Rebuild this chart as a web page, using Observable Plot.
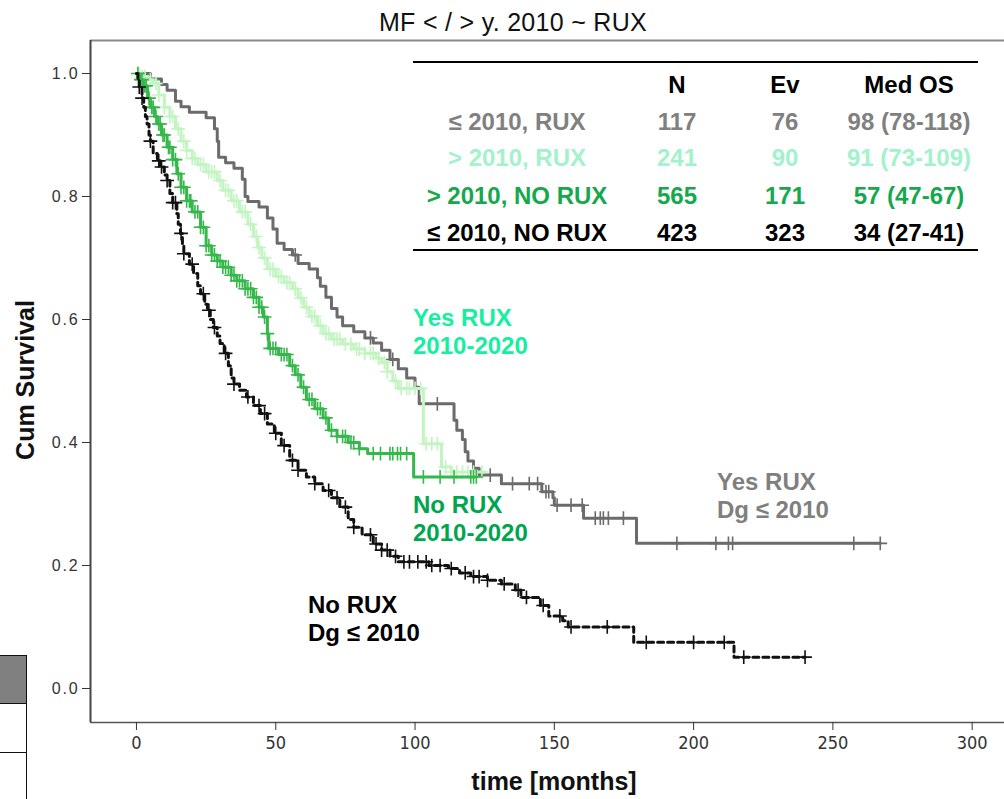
<!DOCTYPE html>
<html><head><meta charset="utf-8">
<script src="https://cdn.jsdelivr.net/npm/d3@7"></script>
<script src="https://cdn.jsdelivr.net/npm/@observablehq/plot@0.6"></script>
<style>
body{margin:0;background:#fff;}
#wrap{position:relative;width:1004px;height:799px;overflow:hidden;font-family:"Liberation Sans",Arial,sans-serif;}
#wrap svg{position:absolute;left:0;top:0;}
#wrap svg g[aria-label="y-axis tick label"] text{letter-spacing:1.8px;}
.abs{position:absolute;white-space:nowrap;line-height:1;}
.c{transform:translate(-50%,-50%);}
.title{left:513px;top:22px;font-size:25px;letter-spacing:0.3px;color:#111;}
.ylab{left:25px;top:380px;font-size:25px;font-weight:bold;color:#111;transform:translate(-50%,-50%) rotate(-90deg);}
.xlab{left:554px;top:781px;font-size:25px;font-weight:bold;color:#111;}
.tbl{font-size:24px;font-weight:bold;}
.hline{position:absolute;left:413px;width:565px;height:2px;background:#000;}
.ann{font-size:24px;font-weight:bold;line-height:28px;}
.box{position:absolute;border:1.5px solid #111;box-sizing:border-box;}
</style></head><body><div id="wrap"></div>
<script>
// ---------------- DATA ----------------
const groups = ["≤ 2010, RUX", "> 2010, RUX", "> 2010, NO RUX", "≤ 2010, NO RUX"];
const groupN = [117, 241, 565, 423];
const groupEv = [76, 90, 171, 323];
const groupMedOS = ["98 (78-118)", "91 (73-109)", "57 (47-67)", "34 (27-41)"];
const tableHeader = ["", "N", "Ev", "Med OS"];

// ≤ 2010, RUX  (gray)
const ruxOldTime = [0,5,9,11,14,16,19,25,28,29,29.5,32,35,38,39,40,44,47,49,50.5,53,56,58,62,65,66,68,70,72,74,78,82,85,88,91,94,97,100,101.5,114,115,117,118,119,121,123,131,145.5,149.5,150,160.5,179.5];
const ruxOldSurv = [1.0,0.991,0.982,0.973,0.955,0.946,0.937,0.928,0.91,0.89,0.864,0.855,0.846,0.828,0.80,0.792,0.783,0.765,0.747,0.724,0.714,0.705,0.691,0.682,0.668,0.654,0.636,0.618,0.604,0.59,0.58,0.57,0.562,0.55,0.535,0.52,0.505,0.49,0.463,0.436,0.42,0.405,0.385,0.37,0.358,0.347,0.333,0.32,0.31,0.298,0.277,0.236];
const ruxOldEnd = 267;
const ruxOldCensor = [57,84,92,108,127,135,141,144,147,148,151,156,160,164.7,166.5,167.6,169.4,174.8,194,208,212.5,214,257.5,267];

// > 2010, RUX  (light green)
const ruxNewTime = [0,2,4,6,8,10,12,14,16,18,20,22,25,29,31,34,37,40,42,43.5,45,47,50,53,56,58,60,62,65,67,70,74,78,82,86,88,90,92,94,103,109.5,113];
const ruxNewSurv = [1.0,0.995,0.99,0.984,0.965,0.945,0.93,0.91,0.89,0.875,0.862,0.852,0.84,0.826,0.81,0.793,0.775,0.755,0.735,0.717,0.70,0.682,0.67,0.66,0.65,0.635,0.62,0.605,0.59,0.577,0.568,0.56,0.552,0.545,0.537,0.53,0.515,0.50,0.488,0.398,0.36,0.352];
const ruxNewEnd = 125;
const ruxNewCensor = [1,2,3,5,7,8,10,12,13,15,17,18,20,21,23,24,26,27,28,30,32,33,35,36,38,39,41,43,44,46,48,49,51,52,54,55,57,59,61,63,64,66,68,69,71,72,73,75,77,79,80,82,84,85,87,89,90,93,95,97,98,100,102,104,106,108,111,113,115,117,119,121,124];

// > 2010, NO RUX  (green)
const noRuxNewTime = [0,1,2.5,4,5,6.5,7.5,9,11,13,14.5,16,18,20,23,25,27,29,31,34,36,39,42,44,45.5,47,47.5,51,55,57,59,61,64,67,69,72,76,80,83,99.5];
const noRuxNewSurv = [1.0,0.99,0.98,0.96,0.945,0.93,0.918,0.9,0.88,0.86,0.837,0.815,0.793,0.775,0.75,0.72,0.705,0.695,0.685,0.672,0.663,0.65,0.636,0.62,0.604,0.577,0.553,0.543,0.525,0.51,0.49,0.47,0.455,0.44,0.42,0.41,0.40,0.39,0.382,0.344];
const noRuxNewEnd = 122;
const noRuxNewCensor = [0.5,1.5,2,3,3.5,4.5,5.5,6,7,8,8.5,9.5,10,11.5,12,13,14,15,16,17,18,19,19.5,21,22,23,24,25,26,27,28,29,30,31,32,33,34,35,36,37,38,39,40,41,42,43,44,45,46,47,48,49,50,52,53,54,56,58,60,62,63,65,66,68,70,72,74,75,77,78,80,85,87.6,91,92,93.7,94.8,97,103,109,114,120,121,122];

// ≤ 2010, NO RUX  (black, dashed)
const noRuxOldTime = [0,0.5,1,2,2.6,3.2,3.8,4.5,5,6,7.5,8.6,10,11,12,13,14.5,15,15.8,16.5,17,19,20.5,22,23,24.5,25.5,26.5,27.6,29,30,31.5,33,34,35,37,39.5,42,44.5,47,49.5,52,55,58,61,64,67,70,73,76,78,81,85,88,91,94,105,112,116,120,126,131,136,138,145,148,153,155,178.5,214.5];
const noRuxOldSurv = [1.0,0.99,0.978,0.96,0.945,0.93,0.918,0.9,0.89,0.87,0.858,0.848,0.835,0.826,0.805,0.79,0.772,0.755,0.74,0.72,0.707,0.69,0.675,0.655,0.642,0.625,0.615,0.60,0.587,0.573,0.561,0.545,0.525,0.505,0.495,0.485,0.474,0.46,0.447,0.43,0.415,0.395,0.371,0.355,0.344,0.333,0.322,0.31,0.295,0.275,0.262,0.25,0.235,0.225,0.215,0.206,0.2,0.195,0.188,0.182,0.176,0.17,0.16,0.148,0.135,0.118,0.11,0.1,0.075,0.051];
const noRuxOldEnd = 240;
const noRuxOldCensor = [1,2,5,8,9,11,13,14,16,17,20,24,26,28,32,35,40,44,46,50,53,56,58,64,69,72,75,78,84,86,88,90,93,96,98,101,104,106,109,113,118,121,123,126,132,137,140,146,152,156,169,183,200,211,218,240];

const annotations = [
  {text: ["Yes RUX", "2010-2020"], cls: "a1"},
  {text: ["No RUX", "2010-2020"], cls: "a2"},
  {text: ["Yes RUX", "Dg ≤ 2010"], cls: "a3"},
  {text: ["No RUX", "Dg ≤ 2010"], cls: "a4"}
];
const yTicks = [0, 0.2, 0.4, 0.6, 0.8, 1.0];
const xTicks = [0, 50, 100, 150, 200, 250, 300];

// ---------------- STYLE ----------------
const lineColors = ["#6b6b6b", "#c2f5c2", "#35b84b", "#111111"];
const textColors = ["#808080", "#a2f2cc", "#16a84c", "#000000"];
const annColors = {a1: "#14f0a0", a2: "#00a550", a3: "#7f7f7f", a4: "#000000"};
const annPos = {a1: [413, 304], a2: [413, 491], a3: [717, 468], a4: [308, 591]};

// ---------------- BUILD ----------------
function stepData(name, times, surv, end) {
  const pts = times.map((t, i) => ({g: name, t, s: surv[i]}));
  pts.push({g: name, t: end, s: surv[surv.length - 1]});
  return pts;
}
function survAt(times, surv, t) {
  let s = surv[0];
  for (let i = 0; i < times.length; i++) if (times[i] <= t) s = surv[i];
  return s;
}
function censorData(name, times, surv, cens) {
  return cens.map(t => ({g: name, t, s: survAt(times, surv, t)}));
}
const sets = [
  [ruxOldTime, ruxOldSurv, ruxOldEnd, ruxOldCensor],
  [ruxNewTime, ruxNewSurv, ruxNewEnd, ruxNewCensor],
  [noRuxNewTime, noRuxNewSurv, noRuxNewEnd, noRuxNewCensor],
  [noRuxOldTime, noRuxOldSurv, noRuxOldEnd, noRuxOldCensor]
];
const marks = [];
const xDom = [-16.5, 311.6], yDom = [-0.0553, 1.0537];
marks.push(Plot.ruleY([yDom[1]], {stroke: "#8a8a8a", strokeWidth: 2}));
marks.push(Plot.ruleY([yDom[0]], {stroke: "#555", strokeWidth: 1.5}));
marks.push(Plot.ruleX([xDom[0]], {stroke: "#444", strokeWidth: 2}));
sets.forEach(([tm, sv, end, cens], i) => {
  const dashed = i === 3;
  marks.push(Plot.line(stepData(groups[i], tm, sv, end), {
    x: "t", y: "s", curve: "step-after", stroke: lineColors[i],
    strokeWidth: 3, strokeDasharray: dashed ? "6,4" : null
  }));
  marks.push(Plot.dot(censorData(groups[i], tm, sv, cens), {
    x: "t", y: "s", symbol: "plus", r: 4.5, stroke: lineColors[i], strokeWidth: 1.6
  }));
});
marks.push(Plot.axisY({ticks: yTicks, tickSize: 8, tickPadding: 3, tickFormat: d3.format(".1f"), label: null,
  fontSize: 16, stroke: "#333", fill: "#333"}));
marks.push(Plot.axisX({ticks: xTicks, tickSize: 8, tickPadding: 6, label: null,
  fontSize: 18, fontFamily: "'Liberation Sans Narrow','DejaVu Sans Condensed',sans-serif", stroke: "#333", fill: "#333"}));

const chart = Plot.plot({
  width: 1004, height: 799,
  marginLeft: 90, marginRight: 0, marginTop: 40, marginBottom: 77,
  x: {domain: xDom},
  y: {domain: yDom},
  style: {fontFamily: "'Liberation Sans',Arial,sans-serif", background: "transparent", overflow: "visible"},
  marks
});
const wrap = document.getElementById("wrap");
wrap.appendChild(chart);

function addDiv(cls, html, style) {
  const d = document.createElement("div");
  d.className = cls; d.innerHTML = html;
  if (style) Object.assign(d.style, style);
  wrap.appendChild(d);
  return d;
}
addDiv("abs c title", "MF &lt; / &gt; y. 2010 ~ RUX");
addDiv("abs ylab", "Cum Survival");
addDiv("abs c xlab", "time [months]");

// table
addDiv("hline", "", {top: "61px"});
addDiv("hline", "", {top: "249px"});
const colX = [517, 677, 785, 909];
const rowY = [85, 122, 158, 196, 233];
tableHeader.forEach((h, j) => { if (h) addDiv("abs c tbl", h, {left: colX[j] + "px", top: rowY[0] + "px", color: "#000"}); });
groups.forEach((g, i) => {
  const cells = [g, groupN[i], groupEv[i], groupMedOS[i]];
  cells.forEach((v, j) => addDiv("abs c tbl", String(v).replace("<","&lt;").replace(">","&gt;"),
    {left: colX[j] + "px", top: rowY[i + 1] + "px", color: textColors[i]}));
});

// annotations
annotations.forEach(a => {
  addDiv("abs ann", a.text.join("<br>"), {left: annPos[a.cls][0] + "px", top: annPos[a.cls][1] + "px", color: annColors[a.cls]});
});

// fragment of neighbouring panel at bottom-left
addDiv("box", "", {left: "-2px", top: "655px", width: "29px", height: "49px", background: "#808080"});
addDiv("box", "", {left: "-2px", top: "703px", width: "29px", height: "50px"});
addDiv("box", "", {left: "-2px", top: "752px", width: "29px", height: "60px"});
</script></body></html>
